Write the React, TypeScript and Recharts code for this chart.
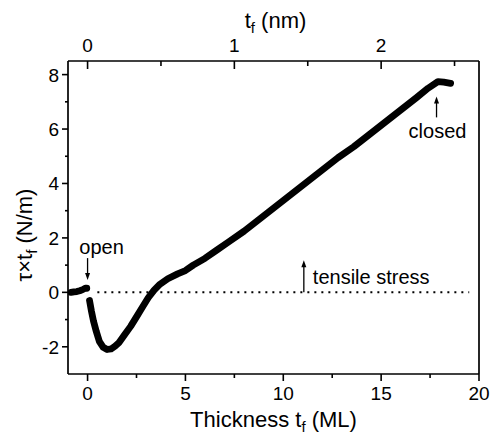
import { LineChart, Line, XAxis, YAxis, ReferenceLine, ReferenceDot } from "recharts";

// film thickness in monolayers and the measured stress-thickness product (N/m)
const thickness = [
  -0.85, -0.7, -0.55, -0.4, -0.25, -0.12, -0.04, 0, 0.1, 0.2, 0.3, 0.45, 0.6, 0.8, 1.0, 1.2, 1.4, 1.6,
  1.9, 2.2, 2.5, 2.8, 3.1, 3.4, 3.7, 4.1, 4.6, 5.0, 5.4, 6.0, 6.6, 7.2, 8.0, 8.8, 9.6, 10.4, 11.2,
  12.0, 12.8, 13.6, 14.4, 15.2, 16.0, 16.8, 17.4, 17.9, 18.2, 18.55,
];
const stress = [
  0.0, 0.02, 0.03, 0.06, 0.1, 0.15, 0.15, null, -0.3, -0.7, -1.05, -1.45, -1.8, -2.02, -2.1, -2.08,
  -1.98, -1.85, -1.55, -1.25, -0.9, -0.55, -0.2, 0.08, 0.3, 0.5, 0.68, 0.8, 1.0, 1.25, 1.55, 1.85,
  2.25, 2.7, 3.15, 3.6, 4.05, 4.5, 4.95, 5.35, 5.8, 6.25, 6.7, 7.15, 7.5, 7.74, 7.72, 7.68,
];

const bottomTicks = [0, 2.5, 5, 7.5, 10, 12.5, 15, 17.5, 20];
const topTicks = [0, 3.75, 7.5, 11.25, 15, 18.75]; // every 0.5 nm, 7.5 ML per nm
const leftTicks = [-2, -1, 0, 1, 2, 3, 4, 5, 6, 7, 8];
const ML_PER_NM = 7.5;

const data = thickness.map((x, i) => ({ x, y: stress[i] }));

const FONT = "'Liberation Sans', Arial, Helvetica, sans-serif";
const AX = { stroke: "#000", strokeWidth: 1.7 };

const BottomTick = ({ x, y, payload }: any) => {
  const v = payload.value;
  const major = v % 5 === 0;
  return (
    <g>
      <line x1={x} x2={x} y1={y} y2={y + (major ? 7 : 4)} stroke="#000" strokeWidth={1.6} />
      {major && (
        <text x={x} y={y + 26} textAnchor="middle" fontSize={19} fill="#000">
          {v}
        </text>
      )}
    </g>
  );
};

const TopTick = ({ x, y, payload }: any) => {
  const nm = payload.value / ML_PER_NM;
  const major = Math.abs(nm - Math.round(nm)) < 1e-6;
  return (
    <g>
      <line x1={x} x2={x} y1={y} y2={y + (major ? 8 : 5)} stroke="#000" strokeWidth={1.6} />
      {major && (
        <text x={x} y={y - 9} textAnchor="middle" fontSize={19} fill="#000">
          {Math.round(nm)}
        </text>
      )}
    </g>
  );
};

const LeftTick = ({ x, y, payload }: any) => {
  const v = payload.value;
  const major = v % 2 === 0;
  return (
    <g>
      <line x1={x - (major ? 6 : 3)} x2={x} y1={y} y2={y} stroke="#000" strokeWidth={1.6} />
      {major && (
        <text x={x - 9} y={y + 7} textAnchor="end" fontSize={19} fill="#000">
          {v}
        </text>
      )}
    </g>
  );
};

const BottomTitle = ({ viewBox }: any) => (
  <text x={viewBox.x + viewBox.width / 2} y={viewBox.y + 53} textAnchor="middle" fontSize={22} fill="#000">
    Thickness t<tspan fontSize={15} dy={5}>f</tspan>
    <tspan dy={-5}> (ML)</tspan>
  </text>
);

const TopTitle = ({ viewBox }: any) => (
  <text x={viewBox.x + viewBox.width / 2 + 2} y={28} textAnchor="middle" fontSize={22} fill="#000">
    t<tspan fontSize={15} dy={5}>f</tspan>
    <tspan dy={-5}> (nm)</tspan>
  </text>
);

const LeftTitle = () => (
  <text x={32} y={235} transform="rotate(-90, 32, 235)" textAnchor="middle" fontSize={22} fill="#000">
    τ×t<tspan fontSize={15} dy={5}>f</tspan>
    <tspan dy={-5}> (N/m)</tspan>
  </text>
);

const Head = ({ x, y, up }: { x: number; y: number; up: boolean }) => (
  <path
    d={up ? `M${x - 2.5},${y + 7} L${x},${y} L${x + 2.5},${y + 7} Z` : `M${x - 2.5},${y - 7} L${x},${y} L${x + 2.5},${y - 7} Z`}
    fill="#000"
  />
);

const OpenMark = ({ cx, cy }: any) => (
  <g>
    <line x1={cx} x2={cx} y1={cy - 22} y2={cy - 5} stroke="#000" strokeWidth={1.3} />
    <Head x={cx} y={cy} up={false} />
    <text x={cx + 14} y={cy - 26} textAnchor="middle" fontSize={20} fill="#000">
      open
    </text>
  </g>
);

const ClosedMark = ({ cx, cy }: any) => (
  <g>
    <line x1={cx} x2={cx} y1={cy + 5} y2={cy + 21} stroke="#000" strokeWidth={1.3} />
    <Head x={cx} y={cy} up={true} />
    <text x={cx + 1} y={cy + 42} textAnchor="middle" fontSize={20} fill="#000">
      closed
    </text>
  </g>
);

const TensileMark = ({ cx, cy }: any) => (
  <g>
    <line x1={cx} x2={cx} y1={cy + 5} y2={cy + 32} stroke="#000" strokeWidth={1.3} />
    <Head x={cx} y={cy} up={true} />
    <text x={cx + 9} y={cy + 24} fontSize={20} fill="#000">
      tensile stress
    </text>
  </g>
);

export default function App() {
  return (
    <div style={{ position: "absolute", left: 0, top: 0, background: "#fff", fontFamily: FONT }}>
      <LineChart width={492} height={436} data={data} margin={{ top: 0, right: 13, bottom: 0, left: 0 }} style={{ fontFamily: FONT }}>
        <XAxis
          dataKey="x"
          type="number"
          domain={[-1, 20]}
          allowDataOverflow
          ticks={bottomTicks}
          interval={0}
          height={62}
          tickSize={0}
          tickMargin={0}
          tickLine={false}
          axisLine={AX}
          tick={<BottomTick />}
          label={<BottomTitle />}
        />
        <XAxis
          xAxisId="top"
          orientation="top"
          dataKey="x"
          type="number"
          domain={[-1, 20]}
          allowDataOverflow
          ticks={topTicks}
          interval={0}
          height={61}
          tickSize={0}
          tickMargin={0}
          tickLine={false}
          axisLine={AX}
          tick={<TopTick />}
          label={<TopTitle />}
        />
        <YAxis
          type="number"
          domain={[-3, 8.5]}
          allowDataOverflow
          ticks={leftTicks}
          interval={0}
          width={68}
          tickSize={0}
          tickMargin={0}
          tickLine={false}
          axisLine={AX}
          tick={<LeftTick />}
          label={<LeftTitle />}
        />
        <ReferenceLine x={20} stroke="#000" strokeWidth={1.7} />
        <ReferenceLine
          segment={[
            { x: 0.5, y: 0 },
            { x: 19.5, y: 0 },
          ]}
          stroke="#000"
          strokeWidth={2}
          strokeDasharray="2 5"
        />
        <Line
          dataKey="y"
          stroke="#000"
          strokeWidth={6.8}
          strokeLinejoin="round"
          strokeLinecap="round"
          dot={false}
          connectNulls={false}
          isAnimationActive={false}
        />
        <ReferenceDot x={0} y={0.45} shape={<OpenMark />} />
        <ReferenceDot x={17.83} y={7.2} shape={<ClosedMark />} />
        <ReferenceDot x={11.05} y={1.18} shape={<TensileMark />} />
      </LineChart>
    </div>
  );
}
